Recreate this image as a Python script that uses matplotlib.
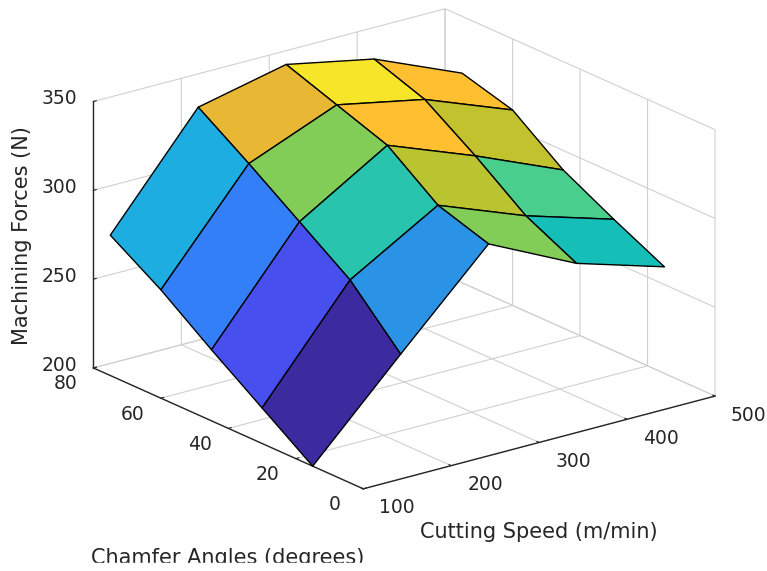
import matplotlib
matplotlib.use("Agg")
import matplotlib.pyplot as plt
from matplotlib.colors import LinearSegmentedColormap
from matplotlib.patches import Rectangle
from mpl_toolkits.mplot3d import proj3d
import numpy as np

# values
cutting_speed = [100, 200, 300, 400, 500]
chamfer_angle = [15, 30, 45, 60, 75]
# rows: chamfer angle, columns: cutting speed
forces = [
    [200, 250, 299, 275, 260],
    [220, 279, 308, 289, 274],
    [240, 299, 329, 310, 289],
    [261, 319, 339, 329, 310],
    [279, 338, 349, 339, 318],
]
speed_ticks = [100, 200, 300, 400, 500]
chamfer_ticks = [0, 20, 40, 60, 80]
force_ticks = [200, 250, 300, 350]
text_color = "#262626"

# colours as they look in the picture, parula-like
cmap = LinearSegmentedColormap.from_list("parula_ish", [
    (0.0, "#3c2a9f"), (0.134, "#4750ef"), (0.27, "#3380f8"), (0.335, "#2a93e5"),
    (0.41, "#1eaee0"), (0.5, "#14bfb8"), (0.533, "#2bc5ac"), (0.6, "#4ccf8b"),
    (0.664, "#7fcc5a"), (0.728, "#bcc42e"), (0.8, "#e8b835"), (0.866, "#fec030"),
    (0.933, "#f6e528"), (1.0, "#f9fb15"),
])

plt.rcParams["font.family"] = "DejaVu Sans"
fig = plt.figure(figsize=(7.67, 5.71), dpi=100)
ax = fig.add_axes([13 / 767, 29 / 571, 1.0, 1.0], projection="3d", proj_type="ortho")
ax.view_init(elev=20.1, azim=-127.5)
ax.set_box_aspect((1, 1, 0.64), zoom=1.17)

X, Y = np.meshgrid(cutting_speed, chamfer_angle)
Z = np.array(forces, dtype=float)
colors = cmap((Z - Z.min()) / (Z.max() - Z.min()))
surf = ax.plot_surface(X, Y, Z, facecolors=colors, rstride=1, cstride=1, shade=False,
                       edgecolor="black", linewidth=1.0, antialiased=True)
surf.set_clip_on(False)

ax.set_xlim(100, 500, view_margin=0)
ax.set_ylim(0, 80, view_margin=0)
ax.set_zlim(200, 350, view_margin=0)
ax.set_xticks(speed_ticks)
ax.set_yticks(chamfer_ticks)
ax.set_zticks(force_ticks)
ax.set_xticklabels([])
ax.set_yticklabels([])
ax.set_zticklabels([])

for axis in (ax.xaxis, ax.yaxis, ax.zaxis):
    axis.set_pane_color((1, 1, 1, 0))
    axis.pane.set_edgecolor("#c8c8c8")
    axis.line.set_color(text_color)
    axis.line.set_linewidth(1.0)
    axis._axinfo["grid"]["color"] = "#d0d0d0"
    axis._axinfo["grid"]["linewidth"] = 0.8
    axis._axinfo["tick"]["inward_factor"] = 0.0
    axis._axinfo["tick"]["outward_factor"] = 0.1
ax.tick_params(colors=text_color)


def tick_text(x, y, z, s, ha="center"):
    px, py, _ = proj3d.proj_transform(x, y, z, ax.get_proj())
    ax.text2D(px, py, s, transform=ax.transData, ha=ha, va="center", fontsize=13.5, color=text_color)


# tick labels by hand: mplot3d resets their transform at draw, no way to nudge them
for s in speed_ticks:
    tick_text(s, -10, 197.8, str(s))
for c in chamfer_ticks:
    tick_text(68, c, 195.2, str(c))
for f in force_ticks:
    tick_text(82, 80, f + 4, str(f), ha="right")

fig.text(539 / 767, 1 - 532 / 571, "Cutting Speed (m/min)", ha="center", va="center", fontsize=15, color=text_color)
fig.text(228 / 767, 1 - 557.5 / 571, "Chamfer Angles (degrees)", ha="center", va="center", fontsize=15, color=text_color)
fig.text(22 / 767, 1 - 236 / 571, "Machining Forces (N)", ha="center", va="center", rotation=90, fontsize=15, color=text_color)
# the label is cut off at the bottom in the original
fig.add_artist(Rectangle((0, 0), 1, 8 / 571, transform=fig.transFigure, color="white", zorder=10))

fig.savefig("out.png", dpi=100)
